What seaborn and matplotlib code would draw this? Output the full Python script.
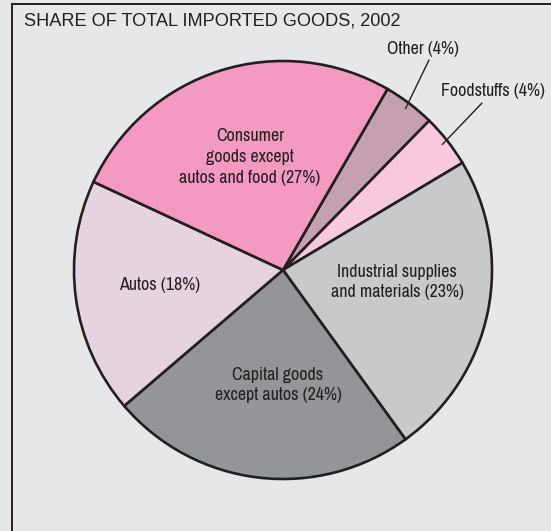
import numpy as np
import matplotlib
matplotlib.use("Agg")
import matplotlib.pyplot as plt
import seaborn as sns
from matplotlib.patches import Rectangle
from matplotlib import font_manager

# ---- data (clockwise from the top-right) ----
categories = ["Other", "Foodstuffs", "Industrial supplies and materials",
              "Capital goods except autos", "Autos", "Consumer goods except autos and food"]
shares = [4.0, 4.1, 23.6, 23.7, 18.2, 26.4]
labels = ["Other (4%)", "Foodstuffs (4%)", "Industrial supplies\nand materials (23%)",
          "Capital goods\nexcept autos (24%)", "Autos (18%)",
          "Consumer\ngoods except\nautos and food (27%)"]
colors = ["#C4A0B1", "#F8C9DE", "#C8C9CB", "#939598", "#E5D3DF", "#F49AC1"]
title = "SHARE OF TOTAL IMPORTED GOODS, 2002"

sns.set_theme(style="white")


def wnum(w):
    if isinstance(w, (int, float)):
        return w
    return font_manager.weight_dict.get(str(w).lower(), 400)


# pick a regular-weight condensed face if one is installed
cands = []
for f in font_manager.fontManager.ttflist:
    nm = f.name.lower()
    fn = f.fname.lower()
    is_cond = ("narrow" in nm or "condensed" in nm or "condensed" in fn
               or str(f.stretch) in ("condensed", "semi-condensed"))
    if is_cond and "mono" not in nm and f.style == "normal" \
            and "bold" not in fn and "light" not in fn and "black" not in fn \
            and "medium" not in fn and "thin" not in fn and wnum(f.weight) <= 400:
        cands.append(f)
cands.sort(key=lambda f: (abs(wnum(f.weight) - 400), f.name))
if cands:
    label_font = dict(fontproperties=font_manager.FontProperties(fname=cands[0].fname))
    label_size = 12.9
else:
    label_font = dict(family=["Liberation Sans", "DejaVu Sans"])
    label_size = 11
plt.rcParams["font.family"] = ["Liberation Sans", "DejaVu Sans"]

W, H = 551, 531
bg = "#E6E7E8"
ink = "#231F20"
fig = plt.figure(figsize=(W / 100, H / 100), dpi=100, facecolor=bg)
ax = fig.add_axes([0, 0, 1, 1])

cx, cy, R = 283, H - 270, 209
wedges, _ = ax.pie(shares, colors=colors, startangle=60, counterclock=False,
                   center=(cx, cy), radius=R, frame=True,
                   wedgeprops=dict(edgecolor=ink, linewidth=1.9))
ax.set_xlim(0, W)
ax.set_ylim(0, H)
ax.set_aspect("equal")
ax.axis("off")

# frame border
ax.add_patch(Rectangle((12, -20), 600, H - 4 + 20, fill=False, edgecolor=ink,
                       linewidth=1.4, clip_on=False))

ax.text(24, H - 21, title, fontsize=13.1, color=ink, va="center", ha="left",
        family=["Liberation Sans", "DejaVu Sans"])


def put(x, y, s, **kw):
    fp = label_font.get("fontproperties")
    if fp is not None:
        fp = fp.copy()
        fp.set_size(label_size)
        return ax.text(x, H - y, s, color=ink, fontproperties=fp, **kw)
    return ax.text(x, H - y, s, color=ink, fontsize=label_size, **label_font, **kw)


# inside labels
inside_pos = {2: (397, 282), 3: (278, 385), 4: (160, 285), 5: (250, 157)}
for i, (x, y) in inside_pos.items():
    put(x, y, labels[i], ha="center", va="center", linespacing=1.38)

# outside labels with leader lines
outside = {0: (423, 49), 1: (493, 91)}
line_start = {0: (429, 60), 1: (482, 103)}
for i in outside:
    w = wedges[i]
    mid = np.deg2rad((w.theta1 + w.theta2) / 2)
    ex, ey = cx + 0.97 * R * np.cos(mid), cy + 0.97 * R * np.sin(mid)
    sx, sy = line_start[i]
    ax.plot([sx, ex], [H - sy, ey], color=ink, linewidth=1.0)
    tx, ty = outside[i]
    put(tx, ty, labels[i], ha="center", va="center")

fig.savefig("out.png", dpi=100, facecolor=bg)
